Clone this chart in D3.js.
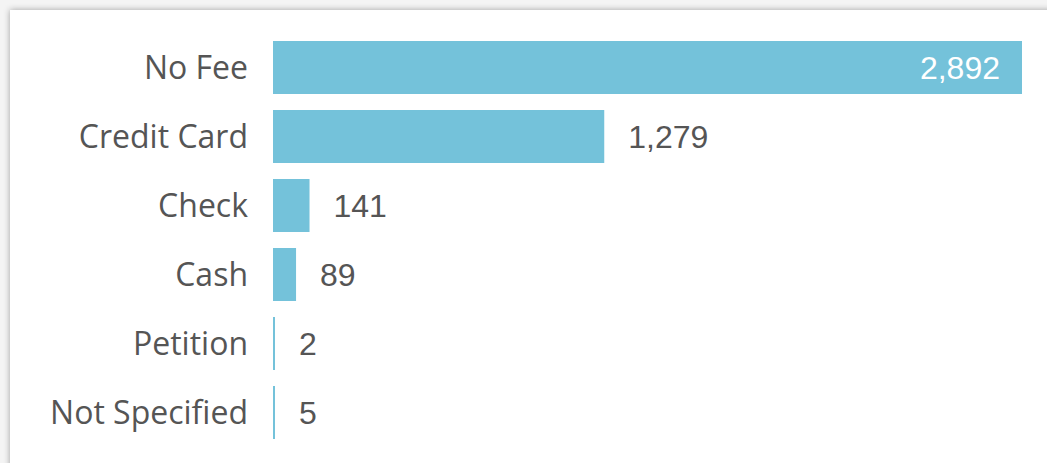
<!DOCTYPE html>
<html>
<head>
<meta charset="utf-8">
<script src="https://cdn.jsdelivr.net/npm/d3@7"></script>
<style>
  html, body { margin: 0; padding: 0; background: #ffffff; }
  svg { display: block; }
</style>
</head>
<body>
<svg id="chart" width="1047" height="463"></svg>
<script>
// Payment method counts
const categories = ["No Fee", "Credit Card", "Check", "Cash", "Petition", "Not Specified"];
const counts = [2892, 1279, 141, 89, 2, 5];

const W = 1047, H = 463;
const svg = d3.select("#chart");

// Card panel with a soft shadow along the top and left edges
const defs = svg.append("defs");
const f = defs.append("filter").attr("id", "cardShadow")
  .attr("x", "-5%").attr("y", "-10%").attr("width", "120%").attr("height", "130%");
f.append("feDropShadow").attr("dx", 0).attr("dy", 0)
  .attr("stdDeviation", 3).attr("flood-color", "#000").attr("flood-opacity", 0.35);

svg.append("rect").attr("x", 0).attr("y", 0).attr("width", W).attr("height", H).attr("fill", "#f4f4f4");
svg.append("rect")
  .attr("x", 10).attr("y", 10).attr("width", W + 40).attr("height", H + 40)
  .attr("fill", "#ffffff").attr("filter", "url(#cardShadow)");

const x0 = 273;
const x = d3.scaleLinear().domain([0, 2892]).range([x0, 1022]);
const y = d3.scaleBand().domain(categories).range([33, 447]).paddingInner(0.232).paddingOuter(0.116);

const data = categories.map((c, i) => ({ cat: c, v: counts[i] }));
const barW = d => Math.max(2, x(d.v) - x(0));

const g = svg.append("g");

g.selectAll("rect.bar").data(data).join("rect")
  .attr("class", "bar")
  .attr("x", x(0))
  .attr("y", d => y(d.cat))
  .attr("width", barW)
  .attr("height", y.bandwidth())
  .attr("fill", "#74c2da");

// Category labels
g.selectAll("text.cat").data(data).join("text")
  .attr("class", "cat")
  .attr("x", 248)
  .attr("y", d => y(d.cat) + y.bandwidth() / 2)
  .attr("dy", "0.36em")
  .attr("text-anchor", "end")
  .attr("font-family", "'Open Sans', 'Noto Sans', sans-serif")
  .attr("font-size", 32)
  .attr("fill", "#555555")
  .text(d => d.cat);

// Value labels: inside the bar when it is long enough, otherwise just past its end
const fmt = d3.format(",");
const inside = d => barW(d) > 500;
g.selectAll("text.val").data(data).join("text")
  .attr("class", "val")
  .attr("x", d => inside(d) ? x(0) + barW(d) - 22 : x(0) + barW(d) + 24)
  .attr("y", d => y(d.cat) + y.bandwidth() / 2)
  .attr("dy", "0.36em")
  .attr("text-anchor", d => inside(d) ? "end" : "start")
  .attr("font-family", "'Liberation Sans', Arial, sans-serif")
  .attr("font-size", 32)
  .attr("fill", d => inside(d) ? "#ffffff" : "#555555")
  .text(d => fmt(d.v));
</script>
</body>
</html>
